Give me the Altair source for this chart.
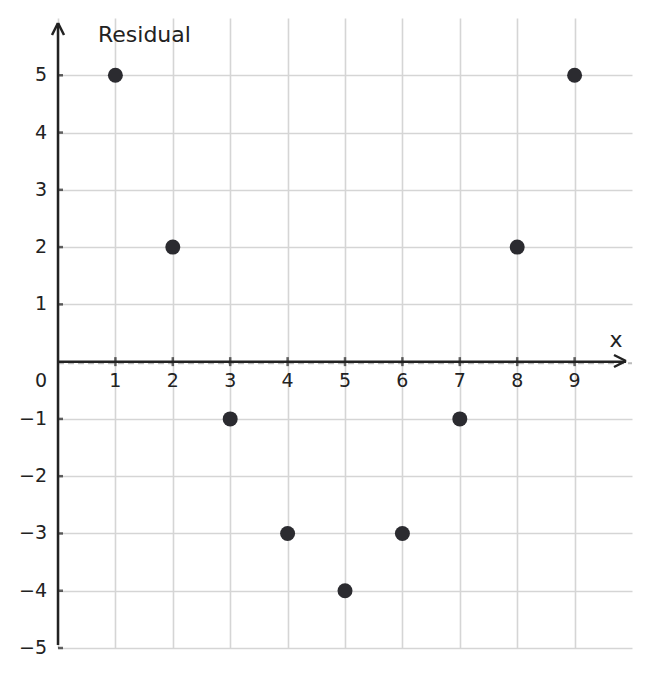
import altair as alt
import pandas as pd

# data
xs = [1, 2, 3, 4, 5, 6, 7, 8, 9]
residuals = [5, 2, -1, -3, -4, -3, -1, 2, 5]
x_ticks = [1, 2, 3, 4, 5, 6, 7, 8, 9]
y_ticks = [5, 4, 3, 2, 1, -1, -2, -3, -4, -5]
x_grid = [0, 1, 2, 3, 4, 5, 6, 7, 8, 9]
x_domain = [0, 10]
y_domain = [-5, 6]

W, H = 574, 630
FONT = "DejaVu Sans"
INK = "#222222"
GRID = "#d5d5d5"

pts = pd.DataFrame({"x": xs, "r": residuals})
xt = pd.DataFrame({"x": x_ticks, "y": [0] * len(x_ticks), "lab": [str(v) for v in x_ticks]})
yt = pd.DataFrame({"x": [0] * len(y_ticks), "y": y_ticks,
                   "lab": [str(v).replace("-", "\u2212") for v in y_ticks]})
one = pd.DataFrame({"x": [0], "y": [0]})

xs_scale = alt.Scale(domain=x_domain, nice=False, zero=False)
ys_scale = alt.Scale(domain=y_domain, nice=False, zero=False)

grid_axis_x = alt.Axis(grid=True, values=x_grid, labels=False, ticks=False, domain=False,
                       title=None, gridColor=GRID, gridWidth=1.6)
grid_axis_y = alt.Axis(grid=True, values=[v for v in y_ticks], labels=False, ticks=False,
                       domain=False, title=None, gridColor=GRID, gridWidth=1.6)

points = alt.Chart(pts).mark_circle(size=225, color="#2b2b30", opacity=1).encode(
    x=alt.X("x:Q", scale=xs_scale, axis=grid_axis_x),
    y=alt.Y("r:Q", scale=ys_scale, axis=grid_axis_y),
)

zero_dash = alt.Chart(one).mark_rule(color="#bbbbbb", strokeWidth=2, strokeDash=[6, 4],
                                     yOffset=1.5).encode(
    y=alt.Y("y:Q", scale=ys_scale), x=alt.value(0), x2=alt.value(W)
)

x_axis_line = alt.Chart(one).mark_rule(color=INK, strokeWidth=2.5).encode(
    y=alt.Y("y:Q", scale=ys_scale), x=alt.value(0), x2=alt.value(568)
)
y_axis_line = alt.Chart(one).mark_rule(color=INK, strokeWidth=2.5).encode(
    x=alt.X("x:Q", scale=xs_scale), y=alt.value(5), y2=alt.value(627)
)

arrow_y1 = alt.Chart(one).mark_rule(color=INK, strokeWidth=2.5).encode(
    x=alt.value(0), y=alt.value(5), x2=alt.value(-6), y2=alt.value(17))
arrow_y2 = alt.Chart(one).mark_rule(color=INK, strokeWidth=2.5).encode(
    x=alt.value(0), y=alt.value(5), x2=alt.value(6), y2=alt.value(17))
arrow_x1 = alt.Chart(one).mark_rule(color=INK, strokeWidth=2.5).encode(
    x=alt.value(568), y=alt.value(343), x2=alt.value(556), y2=alt.value(337))
arrow_x2 = alt.Chart(one).mark_rule(color=INK, strokeWidth=2.5).encode(
    x=alt.value(568), y=alt.value(343), x2=alt.value(556), y2=alt.value(349))

xtick_marks = alt.Chart(xt).mark_tick(color=INK, size=9, thickness=2.5, orient="vertical").encode(
    x=alt.X("x:Q", scale=xs_scale), y=alt.Y("y:Q", scale=ys_scale)
)
ytick_marks = alt.Chart(yt).mark_tick(color=INK, size=5, thickness=2.5, orient="horizontal",
                                      xOffset=2.5).encode(
    x=alt.X("x:Q", scale=xs_scale), y=alt.Y("y:Q", scale=ys_scale)
)

xlabels = alt.Chart(xt).mark_text(font=FONT, fontSize=19, color=INK, dy=19,
                                  baseline="middle", align="center").encode(
    x=alt.X("x:Q", scale=xs_scale), y=alt.Y("y:Q", scale=ys_scale), text="lab:N"
)
ylabels = alt.Chart(yt).mark_text(font=FONT, fontSize=19, color=INK, dx=-11,
                                  baseline="middle", align="right").encode(
    x=alt.X("x:Q", scale=xs_scale), y=alt.Y("y:Q", scale=ys_scale), text="lab:N"
)
zero_label = alt.Chart(one).mark_text(font=FONT, fontSize=19, color=INK, dx=-11, dy=19,
                                      baseline="middle", align="right", text="0").encode(
    x=alt.X("x:Q", scale=xs_scale), y=alt.Y("y:Q", scale=ys_scale)
)

res_title = alt.Chart(one).mark_text(font=FONT, fontSize=22, color=INK, align="left",
                                     baseline="middle", text="Residual").encode(
    x=alt.value(40), y=alt.value(17))
x_title = alt.Chart(one).mark_text(font=FONT, fontSize=22, color=INK, align="center",
                                   baseline="middle", text="x").encode(
    x=alt.value(558), y=alt.value(322))

chart = alt.layer(
    points.mark_circle(opacity=0).encode(),  # grid carrier
    zero_dash, x_axis_line, y_axis_line,
    arrow_y1, arrow_y2, arrow_x1, arrow_x2,
    xtick_marks, ytick_marks, xlabels, ylabels, zero_label,
    res_title, x_title,
    points,
).properties(
    width=W, height=H,
    autosize=alt.AutoSizeParams(type="none"),
    padding={"left": 50, "top": 10, "right": 10, "bottom": 21},
).configure(background="white").configure_view(stroke=None, strokeWidth=0)

chart.save("out.html", embed_options={"renderer": "svg", "actions": False})
